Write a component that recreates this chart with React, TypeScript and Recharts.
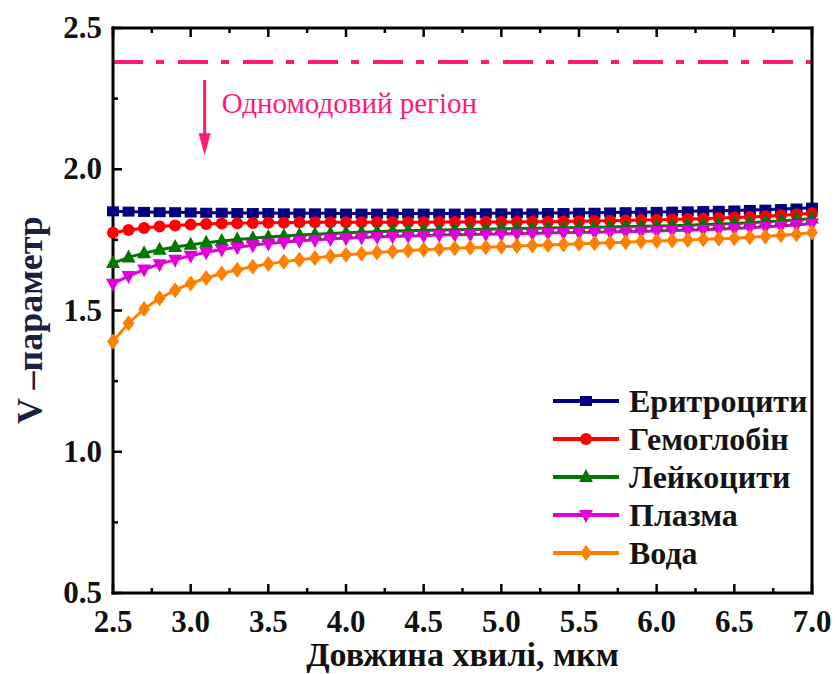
import {
  LineChart,
  Line,
  XAxis,
  YAxis,
  ReferenceLine,
} from "recharts";

const FONT = '"Liberation Serif", "Times New Roman", serif';

// wavelength, µm
const wavelength = [
  2.5, 2.6, 2.7, 2.8, 2.9, 3.0, 3.1, 3.2, 3.3, 3.4, 3.5, 3.6, 3.7, 3.8, 3.9,
  4.0, 4.1, 4.2, 4.3, 4.4, 4.5, 4.6, 4.7, 4.8, 4.9, 5.0, 5.1, 5.2, 5.3, 5.4,
  5.5, 5.6, 5.7, 5.8, 5.9, 6.0, 6.1, 6.2, 6.3, 6.4, 6.5, 6.6, 6.7, 6.8, 6.9,
  7.0,
];

const erythrocytes = [
  1.851, 1.85, 1.849, 1.848, 1.848, 1.847, 1.846, 1.846, 1.845, 1.845, 1.845,
  1.844, 1.844, 1.844, 1.844, 1.843, 1.843, 1.843, 1.843, 1.843, 1.843, 1.843,
  1.843, 1.843, 1.844, 1.844, 1.844, 1.844, 1.845, 1.845, 1.846, 1.846, 1.847,
  1.848, 1.848, 1.849, 1.85, 1.851, 1.852, 1.853, 1.854, 1.856, 1.857, 1.859,
  1.861, 1.864,
];

const hemoglobin = [
  1.775, 1.785, 1.792, 1.797, 1.801, 1.804, 1.806, 1.808, 1.809, 1.81, 1.811,
  1.811, 1.812, 1.812, 1.812, 1.812, 1.812, 1.812, 1.812, 1.812, 1.812, 1.813,
  1.813, 1.813, 1.813, 1.813, 1.813, 1.814, 1.814, 1.815, 1.816, 1.817, 1.818,
  1.819, 1.82, 1.821, 1.822, 1.824, 1.825, 1.827, 1.829, 1.831, 1.834, 1.837,
  1.84, 1.844,
];

const leukocytes = [
  1.668, 1.688, 1.703, 1.715, 1.725, 1.733, 1.74, 1.746, 1.751, 1.756, 1.76,
  1.764, 1.767, 1.77, 1.773, 1.775, 1.777, 1.779, 1.781, 1.782, 1.784, 1.785,
  1.786, 1.787, 1.788, 1.789, 1.79, 1.791, 1.792, 1.793, 1.794, 1.795, 1.796,
  1.797, 1.798, 1.799, 1.8, 1.802, 1.804, 1.806, 1.808, 1.811, 1.814, 1.817,
  1.821, 1.826,
];

const plasma = [
  1.595, 1.622, 1.645, 1.664, 1.68, 1.694, 1.706, 1.716, 1.724, 1.731, 1.737,
  1.742, 1.746, 1.75, 1.753, 1.756, 1.758, 1.76, 1.762, 1.764, 1.765, 1.767,
  1.768, 1.769, 1.77, 1.771, 1.772, 1.773, 1.774, 1.775, 1.776, 1.777, 1.778,
  1.779, 1.78, 1.781, 1.783, 1.784, 1.786, 1.788, 1.79, 1.793, 1.796, 1.799,
  1.803, 1.808,
];

const water = [
  1.39, 1.455, 1.505, 1.543, 1.572, 1.596, 1.615, 1.631, 1.644, 1.655, 1.665,
  1.673, 1.68, 1.686, 1.692, 1.697, 1.701, 1.705, 1.709, 1.712, 1.715, 1.718,
  1.72, 1.722, 1.724, 1.726, 1.728, 1.73, 1.732, 1.734, 1.736, 1.738, 1.74,
  1.742, 1.744, 1.746, 1.748, 1.75, 1.752, 1.754, 1.756, 1.759, 1.762, 1.766,
  1.77, 1.776,
];

const xTicks = [
  2.5, 2.75, 3.0, 3.25, 3.5, 3.75, 4.0, 4.25, 4.5, 4.75, 5.0, 5.25, 5.5, 5.75,
  6.0, 6.25, 6.5, 6.75, 7.0,
];
const yTicks = [0.5, 0.75, 1.0, 1.25, 1.5, 1.75, 2.0, 2.25, 2.5];

const singleModeLimit = 2.38;
const arrowFrom = { x: 3.09, y: 2.316 };
const arrowTo = { x: 3.09, y: 2.05 };

const series = [
  { key: "ery", name: "Еритроцити", color: "#000080", shape: "square" },
  { key: "hem", name: "Гемоглобін", color: "#FF0000", shape: "circle" },
  { key: "leu", name: "Лейкоцити", color: "#007700", shape: "up" },
  { key: "pla", name: "Плазма", color: "#E000D8", shape: "down" },
  { key: "wat", name: "Вода", color: "#FF8000", shape: "diamond" },
];

const data = wavelength.map((x, i) => ({
  x,
  ery: erythrocytes[i],
  hem: hemoglobin[i],
  leu: leukocytes[i],
  pla: plasma[i],
  wat: water[i],
}));

const PINK = "#FF1A75";

const isMajor = (v: number) => Math.abs(v * 2 - Math.round(v * 2)) < 1e-6;

const Marker = ({ cx, cy, shape, color }: any) => {
  if (cx == null || cy == null) return null;
  const s = 6;
  switch (shape) {
    case "square":
      return <rect x={cx - s} y={cy - s + 1} width={s * 2} height={s * 2 - 2} fill={color} />;
    case "circle":
      return <circle cx={cx} cy={cy} r={s} fill={color} />;
    case "up":
      return (
        <polygon
          points={`${cx},${cy - s - 2} ${cx + s + 1},${cy + s - 1} ${cx - s - 1},${cy + s - 1}`}
          fill={color}
        />
      );
    case "down":
      return (
        <polygon
          points={`${cx},${cy + s + 2} ${cx + s + 1},${cy - s + 1} ${cx - s - 1},${cy - s + 1}`}
          fill={color}
        />
      );
    default:
      return (
        <polygon
          points={`${cx},${cy - s - 2} ${cx + s},${cy} ${cx},${cy + s + 2} ${cx - s},${cy}`}
          fill={color}
        />
      );
  }
};

const BottomTick = ({ x, y, payload }: any) => {
  const major = isMajor(payload.value);
  return (
    <g>
      <line x1={x} y1={y} x2={x} y2={y - (major ? 9 : 5)} stroke="#000" strokeWidth={2.5} />
      {major && (
        <text
          x={x}
          y={y + 39}
          textAnchor="middle"
          fontFamily={FONT}
          fontWeight="bold"
          fontSize={31}
          fill="#111"
        >
          {payload.value.toFixed(1)}
        </text>
      )}
    </g>
  );
};

const TopTick = ({ x, y, payload }: any) => (
  <line
    x1={x}
    y1={y}
    x2={x}
    y2={y + (isMajor(payload.value) ? 9 : 5)}
    stroke="#000"
    strokeWidth={2.5}
  />
);

const LeftTick = ({ x, y, payload }: any) => {
  const major = isMajor(payload.value);
  return (
    <g>
      <line x1={x} y1={y} x2={x + (major ? 9 : 5)} y2={y} stroke="#000" strokeWidth={2.5} />
      {major && (
        <text
          x={x - 11}
          y={y + 10}
          textAnchor="end"
          fontFamily={FONT}
          fontWeight="bold"
          fontSize={31}
          fill="#111"
        >
          {payload.value.toFixed(1)}
        </text>
      )}
    </g>
  );
};

const RightTick = ({ x, y, payload }: any) => (
  <line
    x1={x}
    y1={y}
    x2={x - (isMajor(payload.value) ? 9 : 5)}
    y2={y}
    stroke="#000"
    strokeWidth={2.5}
  />
);

const Arrow = ({ x1, y1, x2, y2 }: any) => (
  <g>
    <line x1={x1} y1={y1} x2={x2} y2={y2 - 18} stroke={PINK} strokeWidth={3} />
    <polygon points={`${x2 - 6},${y2 - 22} ${x2 + 6},${y2 - 22} ${x2},${y2}`} fill={PINK} />
    <text x={x1 + 17} y={y1 + 33} fontFamily={FONT} fontSize={29} fill={PINK}>
      Одномодовий регіон
    </text>
  </g>
);

const LegendBox = () => (
  <div
    style={{
      position: "absolute",
      left: 551,
      top: 382,
      fontFamily: FONT,
    }}
  >
    {series.map((s) => (
      <div key={s.key} style={{ display: "flex", alignItems: "center", height: 38 }}>
        <svg width={74} height={38}>
          <line x1={2} y1={19} x2={68} y2={19} stroke={s.color} strokeWidth={4} />
          <Marker cx={35} cy={19} shape={s.shape} color={s.color} />
        </svg>
        <span
          style={{
            fontWeight: "bold",
            fontSize: 32,
            color: "#151515",
            marginLeft: 4,
            lineHeight: "38px",
            whiteSpace: "nowrap",
          }}
        >
          {s.name}
        </span>
      </div>
    ))}
  </div>
);

const axisStroke = { stroke: "#000", strokeWidth: 3, strokeLinecap: "square" as const };

export default function App() {
  return (
    <div style={{ position: "absolute", left: 0, top: 0, width: 835, height: 674, background: "#fff" }}>
      <LineChart width={835} height={674} data={data} margin={{ top: 0, right: 0, bottom: 0, left: 0 }}>
        <XAxis
          dataKey="x"
          type="number"
          domain={[2.5, 7]}
          ticks={xTicks}
          height={81}
          tickSize={0}
          tickMargin={0}
          tickLine={false}
          axisLine={axisStroke}
          tick={<BottomTick />}
          interval={0}
          label={({ viewBox }: any) => (
            <text
              x={viewBox.x + viewBox.width / 2}
              y={viewBox.y + 73}
              textAnchor="middle"
              fontFamily={FONT}
              fontWeight="bold"
              fontSize={34}
              fill="#111"
            >
              Довжина хвилі, мкм
            </text>
          )}
        />
        <XAxis
          xAxisId="top"
          orientation="top"
          dataKey="x"
          type="number"
          domain={[2.5, 7]}
          ticks={xTicks}
          height={28}
          tickSize={0}
          tickMargin={0}
          tickLine={false}
          axisLine={axisStroke}
          tick={<TopTick />}
          interval={0}
        />
        <YAxis
          type="number"
          domain={[0.5, 2.5]}
          ticks={yTicks}
          width={113}
          tickSize={0}
          tickMargin={0}
          tickLine={false}
          axisLine={axisStroke}
          tick={<LeftTick />}
          interval={0}
          label={({ viewBox }: any) => {
            const cx = viewBox.x + 30;
            const cy = 320;
            return (
              <text
                x={cx}
                y={cy}
                transform={`rotate(-90, ${cx}, ${cy})`}
                textAnchor="middle"
                dominantBaseline="central"
                fontFamily={FONT}
                fontWeight="bold"
                fontSize={36}
                fill="#1a2140"
              >
                V –параметр
              </text>
            );
          }}
        />
        <YAxis
          yAxisId="right"
          orientation="right"
          type="number"
          domain={[0.5, 2.5]}
          ticks={yTicks}
          width={23}
          tickSize={0}
          tickMargin={0}
          tickLine={false}
          axisLine={axisStroke}
          tick={<RightTick />}
          interval={0}
        />
        <ReferenceLine
          y={singleModeLimit}
          stroke={PINK}
          strokeWidth={4}
          strokeDasharray="30 13 8 14"
        />
        <ReferenceLine segment={[arrowFrom, arrowTo]} shape={(p: any) => <Arrow {...p} />} />
        {series.map((s) => (
          <Line
            key={s.key}
            dataKey={s.key}
            name={s.name}
            stroke={s.color}
            strokeWidth={3}
            isAnimationActive={false}
            dot={(p: any) => <Marker key={`${s.key}-${p.index}`} cx={p.cx} cy={p.cy} shape={s.shape} color={s.color} />}
            activeDot={false}
          />
        ))}
      </LineChart>
      <LegendBox />
    </div>
  );
}
